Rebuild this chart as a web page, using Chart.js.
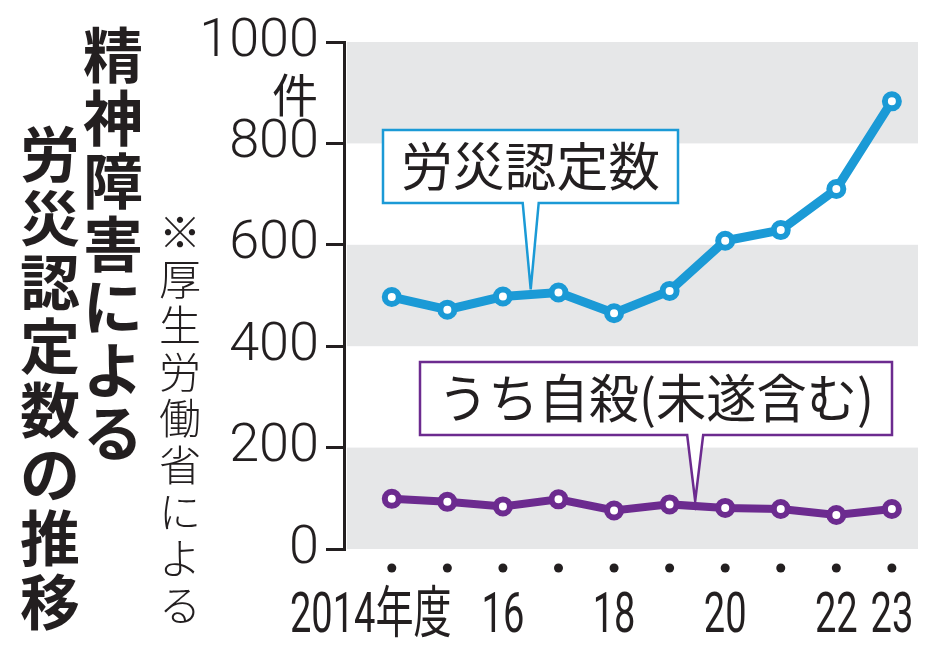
<!DOCTYPE html>
<html lang="ja">
<head>
<meta charset="utf-8">
<script src="https://cdn.jsdelivr.net/npm/chart.js@4.4.1/dist/chart.umd.min.js"></script>
<style>
  html, body { margin: 0; padding: 0; background: #fff; }
  #wrap { width: 934px; height: 654px; }
</style>
</head>
<body>
<div id="wrap"><canvas id="chart" width="934" height="654"></canvas></div>
<script>
// データ
const years = [2014, 2015, 2016, 2017, 2018, 2019, 2020, 2021, 2022, 2023];
const yearLabels = ['2014年度', '', '16', '', '18', '', '20', '', '22', '23'];
const rousaiCounts = [497, 472, 498, 506, 465, 509, 608, 629, 710, 883];
const suicideCounts = [99, 93, 84, 98, 76, 88, 81, 79, 67, 79];
const yTicks = [0, 200, 400, 600, 800, 1000];
const seriesNames = ['労災認定数', 'うち自殺(未遂含む)'];
const titleLine1 = '精神障害による';
const titleLine2 = '労災認定数の推移';
const sourceNote = '※厚生労働省による';
const unitLabel = '件';

const BLUE = '#1b9ad6';
const PURPLE = '#6c2b8f';
const INK = '#231f20';
const BAND = '#e6e7e8';
const JP = '"Noto Sans CJK JP", "Noto Sans", sans-serif';

function drawVertical(ctx, text, cx, y0, pitch) {
  [...text].forEach((ch, i) => ctx.fillText(ch, cx, y0 + i * pitch));
}

function drawCallout(ctx, box, tipX, tipY, color, text) {
  const half = 8;
  ctx.beginPath();
  ctx.moveTo(box.l, box.t);
  ctx.lineTo(box.r, box.t);
  ctx.lineTo(box.r, box.b);
  ctx.lineTo(tipX + half, box.b);
  ctx.lineTo(tipX, tipY);
  ctx.lineTo(tipX - half, box.b);
  ctx.lineTo(box.l, box.b);
  ctx.closePath();
  ctx.fillStyle = '#fff';
  ctx.fill();
  ctx.lineWidth = 2.5;
  ctx.strokeStyle = color;
  ctx.lineJoin = 'miter';
  ctx.stroke();

  ctx.fillStyle = INK;
  ctx.font = '400 52px ' + JP;
  ctx.textAlign = 'center';
  ctx.textBaseline = 'middle';
  ctx.fillText(text, (box.l + box.r) / 2, (box.t + box.b) / 2, box.r - box.l - 36);
}

const decor = {
  id: 'decor',
  beforeDatasetsDraw(chart) {
    const { ctx, chartArea: a, scales: { x, y } } = chart;
    ctx.save();
    // 背景の帯
    ctx.fillStyle = BAND;
    for (let i = 0; i < yTicks.length - 1; i += 2) {
      const top = y.getPixelForValue(yTicks[i + 1]);
      const bot = y.getPixelForValue(yTicks[i]);
      ctx.fillRect(a.left + 3, top, a.right - a.left - 3, bot - top);
    }
    // 吹き出し
    const bx = x.getPixelForValue(2016.5);
    const bv = (rousaiCounts[2] + rousaiCounts[3]) / 2;
    drawCallout(ctx, { l: 383, r: 678, t: 130, b: 203 }, bx, y.getPixelForValue(bv) - 5, BLUE, seriesNames[0]);

    const px = x.getPixelForValue(2019.46);
    const pv = suicideCounts[5] + 0.46 * (suicideCounts[6] - suicideCounts[5]);
    drawCallout(ctx, { l: 420, r: 892, t: 362, b: 435 }, px, y.getPixelForValue(pv) - 5, PURPLE, seriesNames[1]);
    ctx.restore();
  },
  afterDraw(chart) {
    const { ctx, scales: { x } } = chart;
    ctx.save();
    ctx.fillStyle = INK;

    // x軸の点とラベル
    years.forEach((yr, i) => {
      const px = x.getPixelForValue(yr);
      ctx.beginPath();
      ctx.arc(px, 568, 4.5, 0, Math.PI * 2);
      ctx.fill();
      const lab = yearLabels[i];
      if (!lab) return;
      ctx.font = '400 56px Roboto, ' + JP;
      ctx.textAlign = 'center';
      ctx.textBaseline = 'alphabetic';
      const w = ctx.measureText(lab).width * 0.68;
      const cx = i === 0 ? px - 21 : px;
      ctx.fillText(lab, cx, 632, w);
    });

    // 単位
    ctx.font = '400 46px ' + JP;
    ctx.textAlign = 'center';
    ctx.textBaseline = 'middle';
    ctx.fillText(unitLabel, 295, 95);

    // 見出し（縦書き）
    ctx.font = '700 60px ' + JP;
    drawVertical(ctx, titleLine1, 113, 55, 63);
    drawVertical(ctx, titleLine2, 50, 154, 64);

    ctx.font = '300 42px ' + JP;
    drawVertical(ctx, sourceNote, 180, 232, 46.6);
    ctx.restore();
  }
};

new Chart(document.getElementById('chart'), {
  type: 'line',
  data: {
    datasets: [
      {
        label: seriesNames[0],
        data: years.map((yr, i) => ({ x: yr, y: rousaiCounts[i] })),
        borderColor: BLUE,
        borderWidth: 9,
        pointRadius: 7,
        pointBorderWidth: 6,
        pointBackgroundColor: '#fff',
        pointBorderColor: BLUE,
        tension: 0
      },
      {
        label: seriesNames[1],
        data: years.map((yr, i) => ({ x: yr, y: suicideCounts[i] })),
        borderColor: PURPLE,
        borderWidth: 8,
        pointRadius: 7,
        pointBorderWidth: 6,
        pointBackgroundColor: '#fff',
        pointBorderColor: PURPLE,
        tension: 0
      }
    ]
  },
  options: {
    responsive: false,
    animation: false,
    devicePixelRatio: 1,
    layout: { padding: { top: 42, bottom: 105, right: 16, left: 0 } },
    plugins: { legend: { display: false }, tooltip: { enabled: false } },
    scales: {
      x: { type: 'linear', min: 2013.14, max: 2023.47, display: false },
      y: {
        min: 0, max: 1000,
        afterFit(scale) { scale.width = 344; },
        afterBuildTicks(scale) { scale.ticks = yTicks.map(v => ({ value: v })); },
        border: { display: true, color: INK, width: 3 },
        grid: { drawOnChartArea: false, drawTicks: true, tickLength: 18, color: INK, lineWidth: 3 },
        ticks: {
          color: INK, padding: 7,
          font: { family: 'Roboto', weight: 300, size: 54 },
          callback: v => String(v)
        }
      }
    }
  },
  plugins: [decor]
});
</script>
</body>
</html>
